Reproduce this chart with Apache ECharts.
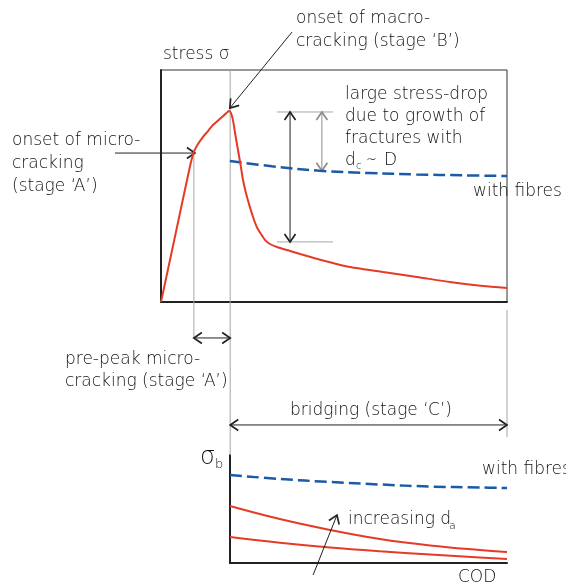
<!DOCTYPE html>
<html>
<head>
<meta charset="utf-8">
<script src="https://cdn.jsdelivr.net/npm/echarts@6/dist/echarts.min.js"></script>
<style>
  html, body { margin: 0; padding: 0; background: #ffffff; }
  #chart { width: 566px; height: 587px; }
</style>
</head>
<body>
<div id="chart"></div>
<script>
// ---------- data (top chart: x = crack opening 0..100, y = stress 0..100) ----------
const topSoftening = [
  [0, 0], [4.2, 29.3], [8.4, 58.6], [9.5, 64.7], [10.7, 68.1], [12.1, 71.1], [13.6, 73.7],
  [15.0, 76.3], [16.5, 78.2], [17.6, 79.7], [18.8, 81.3], [19.65, 82.3],
  [20.2, 81.5], [20.8, 78.4], [21.5, 72.0], [22.25, 65.5], [23.0, 59.1], [23.7, 52.6],
  [24.7, 46.1], [25.7, 40.9], [26.7, 36.2], [27.7, 32.3], [28.9, 29.3], [30.1, 26.7],
  [31.5, 25.0], [33.5, 23.7], [37.3, 22.0], [40.2, 20.7], [47.4, 17.7], [54.6, 15.1],
  [64.2, 12.9], [74.0, 10.8], [83.5, 8.6], [93.1, 6.9], [100, 6.0]
];
const topWithFibres = [
  [19.9, 60.8], [32, 58.5], [45.8, 56.6], [60, 55.6], [73.8, 55.0], [87, 54.6], [100, 54.3]
];

// ---------- data (bottom chart: x = COD 20..100, y = bridging stress 0..100) ----------
const codX = [20, 34.4, 48.9, 63.3, 77.8, 92.2, 100];
const bridgingFibres = [81.5, 77.8, 75.0, 72.7, 70.8, 69.9, 69.4];
const bridgingLargeDa = [52.8, 40.7, 30.6, 22.2, 16.2, 12.0, 10.2];
const bridgingSmallDa = [24.1, 18.8, 14.4, 10.9, 7.9, 5.2, 3.7];

// ---------- annotation segments in top-chart data units: [x1, y1, x2, y2, heads] ----------
// heads: 0 = none, 1 = arrow at end, 2 = arrows at both ends
const blackArrows = [
  [37.9, 116.4, 19.9, 83.6, 1],     // onset of macro-cracking
  [-13.3, 64.2, 9.8, 64.2, 1],      // onset of micro-cracking
  [37.3, 81.9, 37.3, 25.9, 2],      // large stress drop
  [9.5, -15.5, 20.0, -15.5, 2],     // pre-peak micro-cracking
  [20.0, -53.0, 100, -53.0, 2]      // bridging
];
const grayArrows = [
  [46.5, 81.9, 46.5, 56.6, 2]       // drop to fibre curve
];
const guideLines = [
  [9.5, 64.7, 9.5, -15.5, 0],
  [20.0, 100, 20.0, -66.0, 0],
  [100, -3.4, 100, -58.2, 0],
  [33.5, 81.9, 49.7, 81.9, 0],
  [33.5, 25.9, 49.7, 25.9, 0]
];
// bottom chart arrow (bottom-chart data units)
const increasingArrow = [
  [44.0, -11.1, 50.9, 44.4, 1]
];

const FONT = '"DejaVu Sans", sans-serif';
const TXT = '#111111';
const RED = '#e53b26';
const BLUE = '#1b5aa6';

function arrowRenderer(color, width) {
  return function (params, api) {
    const p1 = api.coord([api.value(0), api.value(1)]);
    const p2 = api.coord([api.value(2), api.value(3)]);
    const heads = api.value(4);
    const children = [{
      type: 'line',
      shape: { x1: p1[0], y1: p1[1], x2: p2[0], y2: p2[1] },
      style: { stroke: color, lineWidth: width }
    }];
    function head(tip, tail) {
      const dx = tip[0] - tail[0], dy = tip[1] - tail[1];
      const len = Math.sqrt(dx * dx + dy * dy) || 1;
      const ux = dx / len, uy = dy / len;
      const L = 8, W = 5.5;
      return {
        type: 'polyline',
        shape: { points: [
          [tip[0] - L * ux + W * uy, tip[1] - L * uy - W * ux],
          [tip[0], tip[1]],
          [tip[0] - L * ux - W * uy, tip[1] - L * uy + W * ux]
        ] },
        style: { stroke: color, lineWidth: width + 0.7, fill: null }
      };
    }
    if (heads >= 1) children.push(head(p2, p1));
    if (heads >= 2) children.push(head(p1, p2));
    return { type: 'group', children: children };
  };
}

function txt(x, y, text, size) {
  return {
    type: 'text', x: x, y: y, silent: true,
    style: { text: text, fill: TXT, font: '300 ' + (size || 17) + 'px ' + FONT, textVerticalAlign: 'middle', textAlign: 'left' }
  };
}

const chart = echarts.init(document.getElementById('chart'), null, { renderer: 'canvas' });
const axisLine2 = { show: true, onZero: false, lineStyle: { color: '#222', width: 2 } };

chart.setOption({
  animation: false,
  backgroundColor: '#ffffff',
  grid: [
    { left: 161, top: 70, width: 346, height: 232, show: true, borderColor: '#333', borderWidth: 1, backgroundColor: 'transparent' },
    { left: 230, top: 455, width: 277, height: 108, show: false }
  ],
  xAxis: [
    { type: 'value', gridIndex: 0, min: 0, max: 100, axisLine: axisLine2, axisTick: { show: false }, axisLabel: { show: false }, splitLine: { show: false } },
    { type: 'value', gridIndex: 1, min: 20, max: 100, axisLine: axisLine2, axisTick: { show: false }, axisLabel: { show: false }, splitLine: { show: false } }
  ],
  yAxis: [
    { type: 'value', gridIndex: 0, min: 0, max: 100, axisLine: axisLine2, axisTick: { show: false }, axisLabel: { show: false }, splitLine: { show: false } },
    { type: 'value', gridIndex: 1, min: 0, max: 100, axisLine: axisLine2, axisTick: { show: false }, axisLabel: { show: false }, splitLine: { show: false } }
  ],
  series: [
    { type: 'custom', xAxisIndex: 0, yAxisIndex: 0, clip: false, z: 1, data: guideLines, encode: { x: [0, 2], y: [1, 3] }, renderItem: arrowRenderer('#a6a6a6', 1) },
    { type: 'custom', xAxisIndex: 0, yAxisIndex: 0, clip: false, z: 2, data: grayArrows, encode: { x: [0, 2], y: [1, 3] }, renderItem: arrowRenderer('#8c8c8c', 1) },
    { type: 'custom', xAxisIndex: 0, yAxisIndex: 0, clip: false, z: 3, data: blackArrows, encode: { x: [0, 2], y: [1, 3] }, renderItem: arrowRenderer('#222', 1) },
    { type: 'custom', xAxisIndex: 1, yAxisIndex: 1, clip: false, z: 6, data: increasingArrow, encode: { x: [0, 2], y: [1, 3] }, renderItem: arrowRenderer('#222', 1) },
    { type: 'line', xAxisIndex: 0, yAxisIndex: 0, data: topWithFibres, smooth: 0.4, showSymbol: false, z: 4,
      lineStyle: { color: BLUE, width: 2.5, type: [12, 5] } },
    { type: 'line', xAxisIndex: 0, yAxisIndex: 0, data: topSoftening, smooth: 0.2, showSymbol: false, z: 5,
      lineStyle: { color: RED, width: 2 } },
    { type: 'line', xAxisIndex: 1, yAxisIndex: 1, data: codX.map((x, i) => [x, bridgingFibres[i]]), smooth: 0.4, showSymbol: false, z: 4,
      lineStyle: { color: BLUE, width: 2.5, type: [12, 5] } },
    { type: 'line', xAxisIndex: 1, yAxisIndex: 1, data: codX.map((x, i) => [x, bridgingLargeDa[i]]), smooth: 0.4, showSymbol: false, z: 5,
      lineStyle: { color: RED, width: 2 } },
    { type: 'line', xAxisIndex: 1, yAxisIndex: 1, data: codX.map((x, i) => [x, bridgingSmallDa[i]]), smooth: 0.4, showSymbol: false, z: 5,
      lineStyle: { color: RED, width: 2 } }
  ],
  graphic: [
    txt(296, 19, 'onset of macro-'),
    txt(296, 42, 'cracking (stage \u2018B\u2019)'),
    txt(163, 55, 'stress \u03c3'),
    txt(12, 141, 'onset of micro-'),
    txt(12, 164, 'cracking'),
    txt(12, 187, '(stage \u2018A\u2019)'),
    txt(345, 95, 'large stress-drop'),
    txt(345, 117, 'due to growth of'),
    txt(345, 139, 'fractures with'),
    txt(345, 161, 'd'),
    txt(356, 166, 'c', 10),
    txt(366, 161, '\u223c'),
    txt(384, 161, 'D'),
    txt(473, 192, 'with fibres'),
    txt(65, 360, 'pre-peak micro-'),
    txt(65, 382, 'cracking (stage \u2018A\u2019)'),
    txt(290, 411, 'bridging (stage \u2018C\u2019)'),
    txt(200, 458, '\u03c3', 24),
    txt(215, 465, 'b', 13),
    txt(482, 470, 'with fibres'),
    txt(348, 520, 'increasing d'),
    txt(449, 526, 'a', 11),
    txt(458, 578, 'COD')
  ]
});
</script>
</body>
</html>
